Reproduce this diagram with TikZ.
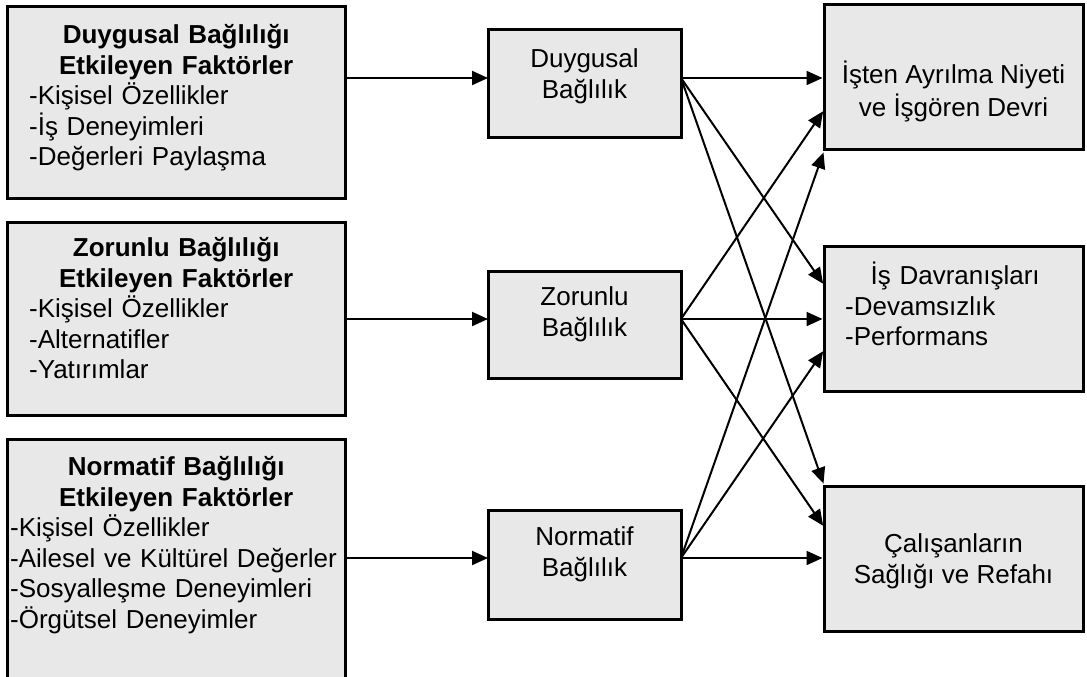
\documentclass[tikz,border=0pt]{standalone}
\usepackage{fontspec}
\setmainfont{Liberation Sans}
\usetikzlibrary{arrows.meta}
\definecolor{boxfill}{RGB}{232,232,232}
\begin{document}
\begin{tikzpicture}[x=1pt,y=-1pt,
  font=\fontsize{26}{30.5}\selectfont,
  panel/.style={draw=black, line width=3pt, fill=boxfill, rectangle,
    inner sep=0pt, outer sep=0pt, anchor=north west},
  factors/.style={inner sep=0pt, anchor=north west, align=left},
  centred/.style={inner sep=0pt, anchor=north, align=center},
  arr/.style={line width=2pt, -{Triangle[length=16pt,width=14pt]}}]
\useasboundingbox (0,0) rectangle (1087,677);

% factor boxes (left column)
\node[panel, minimum width=338pt, minimum height=191pt] (l1) at (7,7) {};
\node[panel, minimum width=338pt, minimum height=193pt] (l2) at (7,222) {};
\node[panel, minimum width=338pt, minimum height=260pt] (l3) at (7,439) {};

\node[factors, text width=294pt] (l1t) at (29,22)
  {{\centering\bfseries\strut Duygusal Bağlılığı\\Etkileyen Faktörler\par}
   -Kişisel Özellikler\\-İş Deneyimleri\\-Değerleri Paylaşma};
\node[factors, text width=294pt] (l2t) at (29,235)
  {{\centering\bfseries\strut Zorunlu Bağlılığı\\Etkileyen Faktörler\par}
   -Kişisel Özellikler\\-Alternatifler\\-Yatırımlar};
\node[factors, text width=332pt] (l3t) at (10,454)
  {{\centering\bfseries\strut Normatif Bağlılığı\\Etkileyen Faktörler\par}
   -Kişisel Özellikler\\-Ailesel ve Kültürel Değerler\\-Sosyalleşme Deneyimleri\\-Örgütsel Deneyimler};

% commitment boxes (middle column)
\node[panel, minimum width=193pt, minimum height=107pt] (m1) at (488,30) {};
\node[panel, minimum width=193pt, minimum height=107pt] (m2) at (488,271) {};
\node[panel, minimum width=193pt, minimum height=109pt] (m3) at (488,510) {};

\node[centred] (m1t) at (584.5,46) {\strut Duygusal\\Bağlılık};
\node[centred] (m2t) at (584.5,284) {\strut Zorunlu\\Bağlılık};
\node[centred] (m3t) at (584.5,524) {\strut Normatif\\Bağlılık};

% outcome boxes (right column)
\node[panel, minimum width=259pt, minimum height=144pt] (r1) at (824,5) {};
\node[panel, minimum width=259pt, minimum height=145pt] (r2) at (824,246) {};
\node[panel, minimum width=259pt, minimum height=145pt] (r3) at (824,486) {};

\node[centred] (r1t) at (953.5,61) {\strut İşten Ayrılma Niyeti\\ve İşgören Devri};
\node[factors, text width=220pt] (r2t) at (845,262)
  {{\centering\strut İş Davranışları\par}-Devamsızlık\\-Performans};
\node[centred] (r3t) at (953.5,531) {\strut Çalışanların\\Sağlığı ve Refahı};

% connection points
\coordinate (p1) at (681,78);
\coordinate (p2) at (681,319);
\coordinate (p3) at (681,558);
\coordinate (t11) at (824,78);
\coordinate (t12) at (824,110);
\coordinate (t13) at (824,151);
\coordinate (t21) at (824,285);
\coordinate (t22) at (824,319);
\coordinate (t23) at (824,350);
\coordinate (t31) at (824,485);
\coordinate (t32) at (824,527);
\coordinate (t33) at (824,558);

% factors -> commitment
\draw[arr] (l1.east |- p1) -- (m1.west |- p1);
\draw[arr] (l2.east |- p2) -- (m2.west |- p2);
\draw[arr] (l3.east |- p3) -- (m3.west |- p3);

% commitment -> outcomes
\begin{scope}[shorten >=1.5pt]
\draw[arr] (p1) -- (t11);
\draw[arr] (p1) -- (t21);
\draw[arr] (p1) -- (t31);
\draw[arr] (p2) -- (t12);
\draw[arr] (p2) -- (t22);
\draw[arr] (p2) -- (t32);
\draw[arr] (p3) -- (t13);
\draw[arr] (p3) -- (t23);
\draw[arr] (p3) -- (t33);
\end{scope}
\end{tikzpicture}
\end{document}
